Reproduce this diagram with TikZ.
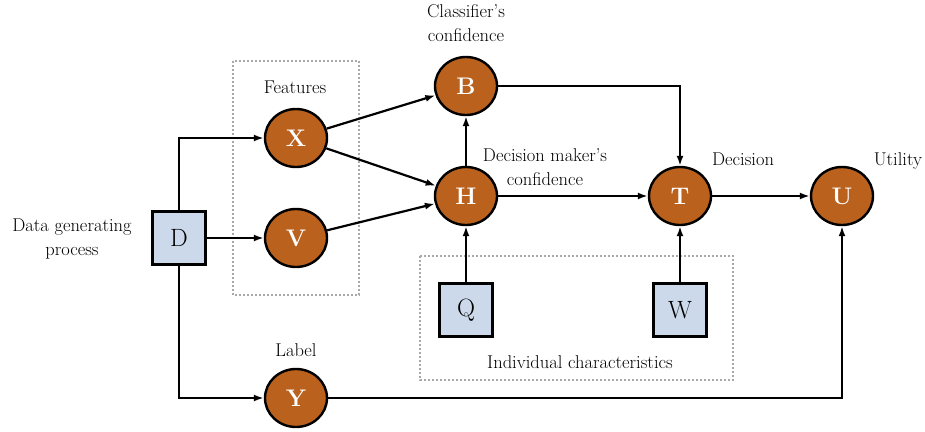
\documentclass[tikz,border=0pt]{standalone}
\usetikzlibrary{shapes.geometric,arrows.meta}
\definecolor{nodeorange}{HTML}{BA611E}
\definecolor{boxblue}{HTML}{CCD9EA}
\definecolor{dotgray}{HTML}{A8A8A8}
\begin{document}
\begin{tikzpicture}[x=1pt,y=-1pt,
  var/.style={ellipse,draw=black,line width=2.4pt,fill=nodeorange,minimum width=62pt,minimum height=58pt,inner sep=0pt,text=white,font=\fontsize{24}{28}\selectfont\bfseries},
  obs/.style={rectangle,draw=black,line width=2.4pt,fill=boxblue,minimum width=53pt,minimum height=53pt,inner sep=0pt,font=\fontsize{25}{28}\selectfont},
  lbl/.style={align=center,inner sep=0pt,font=\fontsize{18.5}{24}\selectfont},
  grp/.style={draw=dotgray,line width=2pt,dotted},
  conn/.style={line width=2.2pt,-{Latex[length=10pt,width=7pt]}},
  plain/.style={line width=2.2pt}]
\useasboundingbox (0,0) rectangle (925,431);
% groups
\draw[grp] (233,61) rectangle (359,295);
\draw[grp] (420,256) rectangle (733,380);
% nodes
\node[obs] (D) at (179,238) {D};
\node[var] (X) at (296,138) {X};
\node[var] (V) at (296,238) {V};
\node[var] (Y) at (296,398) {Y};
\node[var] (B) at (466,86) {B};
\node[var] (H) at (466,196) {H};
\node[var] (T) at (680,196) {T};
\node[var] (U) at (842,196) {U};
\node[obs] (Q) at (466,310) {Q};
\node[obs] (W) at (680,310) {W};
% labels
\node[lbl] (lD) at (72,239) {Data generating\\process};
\node[lbl] (lF) at (295,87) {Features};
\node[lbl] (lB) at (466,23) {Classifier’s\\confidence};
\node[lbl] (lH) at (545,167) {Decision maker’s\\confidence};
\node[lbl] (lT) at (743,159) {Decision};
\node[lbl] (lU) at (898,161) {Utility};
\node[lbl] (lY) at (296,350) {Label};
\node[lbl] (lI) at (580,362) {Individual characteristics};
% connectors
\draw[conn] (D.north) |- (X);
\draw[conn] (D) -- (V);
\draw[conn] (D.south) |- (Y);
\draw[conn] (X) -- (B);
\draw[conn] (X) -- (H);
\draw[conn] (V) -- (H);
\draw[conn] (H) -- (B);
\draw[conn] (B) -| (T);
\draw[conn] (H) -- (T);
\draw[conn] (T) -- (U);
\draw[conn] (Q) -- (H);
\draw[conn] (W) -- (T);
\draw[conn] (Y) -| (U);
\end{tikzpicture}
\end{document}
